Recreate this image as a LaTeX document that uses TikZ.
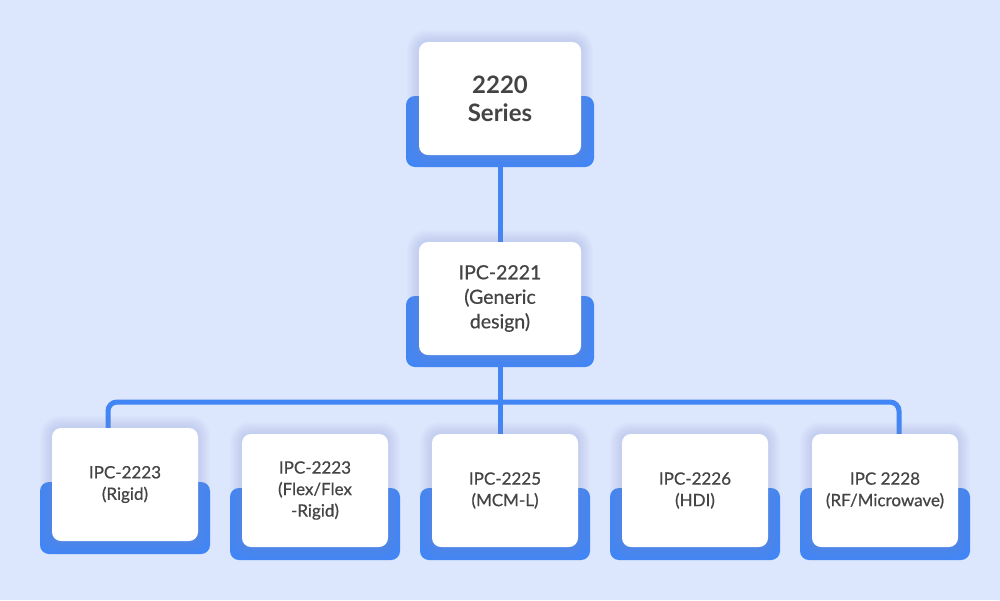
\documentclass[tikz,border=0pt]{standalone}
\usepackage{fontspec}
\setmainfont{Lato}
\newfontfamily\medfont[FakeBold=0.6]{Lato}
\definecolor{bgc}{HTML}{DCE6FC}
\definecolor{bluec}{HTML}{4285F4}
\definecolor{txtc}{HTML}{444444}
\definecolor{glowc}{HTML}{7F9FE6}
\pgfdeclarelayer{bglayer}
\pgfdeclarelayer{lines}
\pgfdeclarelayer{baselayer}
\pgfdeclarelayer{glowlayer}
\pgfsetlayers{bglayer,lines,baselayer,glowlayer,main}
\newcommand\glowbox[1]{%
  \foreach \k in {1,...,12}{%
    \pgfmathsetmacro\rr{8+\k}%
    \fill[glowc, opacity=0.02, rounded corners=\rr pt]
      ([xshift=-\k pt, yshift=\k pt]#1.north west) rectangle ([xshift=\k pt, yshift=-\k pt]#1.south east);
  }%
}
\begin{document}
\begin{tikzpicture}[x=1pt,y=-1pt,
  basebox/.style={fill=bluec, rounded corners=9pt, inner sep=0pt, minimum width=#1},
  basebox/.default=188pt,
  card/.style={fill=white, rounded corners=9pt, inner sep=0pt, align=center, text=txtc, minimum height=113pt},
  topfont/.style={font=\fontsize{24}{28}\selectfont\bfseries},
  midfont/.style={font=\medfont\fontsize{19.5}{24.5}\selectfont},
  lowfont/.style={font=\medfont\fontsize{17}{21.5}\selectfont},
  conn/.style={draw=bluec, line width=5pt}
]
\begin{pgfonlayer}{bglayer}
\fill[bgc] (0,0) rectangle (1000,600);
\end{pgfonlayer}
\useasboundingbox (0,0) rectangle (1000,600);

\begin{pgfonlayer}{baselayer}
\node[basebox, minimum height=71pt] (topbase) at (500,131.5) {};
\node[basebox, minimum height=71pt] (midbase) at (500,331.5) {};
\node[basebox=170pt, minimum height=72pt] (b1base) at (125,518) {};
\node[basebox=170pt, minimum height=72pt] (b2base) at (315,524) {};
\node[basebox=170pt, minimum height=72pt] (b3base) at (505,524) {};
\node[basebox=170pt, minimum height=72pt] (b4base) at (695,524) {};
\node[basebox=170pt, minimum height=72pt] (b5base) at (885,524) {};
\end{pgfonlayer}

\node[card, minimum width=162pt, topfont] (top) at (500,98.5) {2220\\Series};
\node[card, minimum width=162pt, midfont] (mid) at (500,298.5) {IPC-2221\\(Generic\\design)};
\node[card, minimum width=146pt, lowfont] (b1) at (125,484.5) {IPC-2223\\(Rigid)};
\node[card, minimum width=146pt, lowfont] (b2) at (315,490.5) {IPC-2223\\(Flex/Flex\\-Rigid)};
\node[card, minimum width=146pt, lowfont] (b3) at (505,490.5) {IPC-2225\\(MCM-L)};
\node[card, minimum width=146pt, lowfont] (b4) at (695,490.5) {IPC-2226\\(HDI)};
\node[card, minimum width=146pt, lowfont] (b5) at (885,490.5) {IPC 2228\\(RF/Microwave)};

\begin{pgfonlayer}{glowlayer}
\glowbox{top}\glowbox{mid}\glowbox{b1}\glowbox{b2}\glowbox{b3}\glowbox{b4}\glowbox{b5}
\end{pgfonlayer}

\coordinate (junc) at (500,402);

\begin{pgfonlayer}{lines}
\draw[conn] (topbase.south) -- (mid.north);
\draw[conn] (midbase.south) -- (midbase.south |- b3.north);
\draw[conn, rounded corners=9pt] ([xshift=-17pt]b1.north) |- (junc) -| ([xshift=14pt]b5.north);
\end{pgfonlayer}
\end{tikzpicture}
\end{document}
